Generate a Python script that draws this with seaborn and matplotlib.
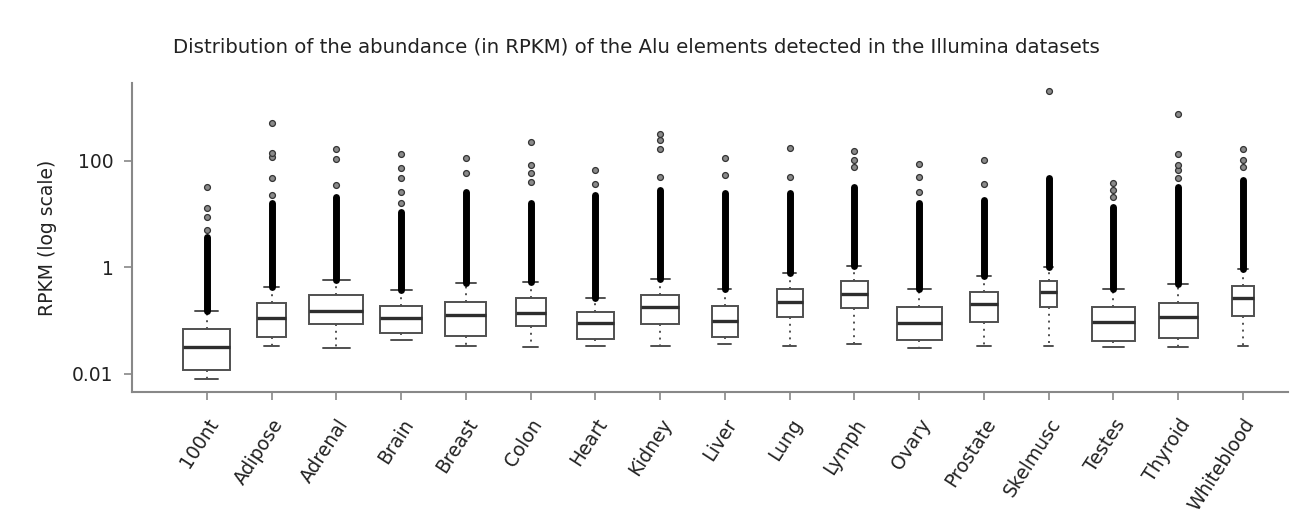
import numpy as np
import pandas as pd
import matplotlib
matplotlib.use("Agg")
import matplotlib.pyplot as plt
import seaborn as sns
from matplotlib.ticker import NullLocator

# tissues on the x axis
categories = ["100nt", "Adipose", "Adrenal", "Brain", "Breast", "Colon", "Heart", "Kidney",
              "Liver", "Lung", "Lymph", "Ovary", "Prostate", "Skelmusc", "Testes", "Thyroid",
              "Whiteblood"]

# box summary (RPKM)
whisk_lo = [0.0080, 0.034, 0.030, 0.043, 0.034, 0.032, 0.034, 0.034, 0.037, 0.034, 0.037,
            0.030, 0.034, 0.034, 0.032, 0.032, 0.034]
q1 = [0.0118, 0.049, 0.086, 0.059, 0.051, 0.080, 0.045, 0.086, 0.049, 0.118, 0.170,
      0.043, 0.096, 0.178, 0.042, 0.048, 0.122]
median = [0.032, 0.110, 0.153, 0.113, 0.127, 0.137, 0.091, 0.178, 0.100, 0.226, 0.315,
          0.091, 0.202, 0.340, 0.096, 0.118, 0.269]
q3 = [0.069, 0.211, 0.302, 0.188, 0.226, 0.262, 0.143, 0.302, 0.188, 0.386, 0.553,
      0.182, 0.348, 0.561, 0.182, 0.217, 0.452]
whisk_hi = [0.153, 0.42, 0.578, 0.375, 0.501, 0.537, 0.269, 0.603, 0.396, 0.771, 1.07,
            0.386, 0.687, 1.0, 0.386, 0.48, 0.917]

# top of the dense run of outliers above each upper whisker
dense_top = [3.75, 15.9, 21.1, 11.0, 26.0, 15.9, 22.7, 28.2, 24.4, 24.4, 32.5,
             15.9, 18.3, 46.7, 13.7, 32.5, 43.5]

# isolated outliers above the dense run
sparse_out = [
    [5.0, 8.9, 12.8, 32.5],
    [22.7, 46.7, 119, 141, 503],
    [35, 106, 164],
    [15.9, 26.2, 46.7, 72, 134],
    [58, 111],
    [40, 58, 83, 221],
    [36, 67],
    [50, 166, 244, 316],
    [54, 111],
    [50, 171],
    [77, 103, 154],
    [26.2, 50, 87],
    [36.5, 103],
    [2030],
    [21.1, 28.2, 37.7],
    [46.7, 67, 83, 132, 752],
    [75, 103, 164],
]

# box widths differ per tissue in the original (variable width boxes)
box_width = [0.72, 0.46, 0.83, 0.65, 0.63, 0.46, 0.58, 0.59, 0.40, 0.40, 0.43,
             0.70, 0.44, 0.27, 0.66, 0.61, 0.33]

title = "Distribution of the abundance (in RPKM) of the Alu elements detected in the Illumina datasets"

sns.set_style("ticks")
plt.rcParams["font.family"] = ["DejaVu Sans"]

fig = plt.figure(figsize=(12.96, 5.25), dpi=100)
ax = fig.add_axes([0.1016, 0.254, 0.8925, 0.587])

edge = "#505050"
for i, cat in enumerate(categories):
    vals = [whisk_lo[i], q1[i], median[i], q3[i], whisk_hi[i]]
    df = pd.DataFrame({"pos": [i] * len(vals), "rpkm": vals})
    sns.boxplot(data=df, x="pos", y="rpkm", native_scale=True, log_scale=(False, True),
                width=box_width[i], whis=(0, 100), showfliers=False,
                color="white", linecolor=edge, linewidth=1.4,
                medianprops=dict(color="#2e2e2e", linewidth=2.4),
                whiskerprops=dict(linestyle=(0, (1, 2.5))),
                capprops=dict(linestyle="-"),
                ax=ax)

# dense outlier runs
ax.vlines(range(len(categories)), whisk_hi, dense_top, colors="black",
          linewidth=5, capstyle="round", zorder=3)

# sparse outliers
out_x = [i for i, pts in enumerate(sparse_out) for _ in pts]
out_y = [v for pts in sparse_out for v in pts]
sns.scatterplot(x=out_x, y=out_y, ax=ax, s=18, color="#8a8a8a", edgecolor="#333333",
                linewidth=0.9, zorder=4, legend=False)

ax.set_xlim(-1.16, 16.7)
ax.set_ylim(0.00463, 2830)
ax.set_yticks([0.01, 1, 100])
ax.set_yticklabels(["0.01", "1", "100"])
ax.yaxis.set_minor_locator(NullLocator())
ax.set_xticks(range(len(categories)))
ax.set_xticklabels(categories, rotation=57, ha="right", rotation_mode="anchor")
ax.set_xlabel("")
ax.set_ylabel("RPKM (log scale)", fontsize=13.5, color="#222222", labelpad=11)
ax.tick_params(axis="both", labelsize=13.5, colors="#222222", length=6, width=1.2)
ax.tick_params(axis="both", color="#888888")
ax.tick_params(axis="y", pad=7)
ax.tick_params(axis="x", pad=11)

sns.despine(ax=ax)
for s in ["left", "bottom"]:
    ax.spines[s].set_color("#888888")
    ax.spines[s].set_linewidth(1.5)

fig.text(0.491, 0.91, title, ha="center", va="center", fontsize=14.2, color="#222222")

fig.savefig("out.png", dpi=100)
